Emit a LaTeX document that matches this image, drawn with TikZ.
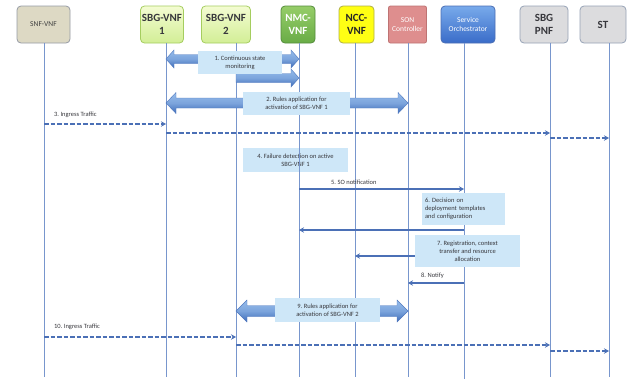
\documentclass[tikz,border=0pt]{standalone}
\usepackage{fontspec}
\setmainfont{Carlito}
\usetikzlibrary{arrows.meta,calc}
\frenchspacing
\definecolor{lifec}{RGB}{120,150,205}
\definecolor{msgc}{RGB}{75,112,182}
\definecolor{lblue}{RGB}{206,231,248}
\definecolor{txt}{RGB}{55,55,60}
\definecolor{blkT}{RGB}{150,188,235}
\definecolor{blkB}{RGB}{62,108,185}
\definecolor{blkD}{RGB}{80,120,190}
\definecolor{snfF}{RGB}{221,217,196}
\definecolor{snfD}{RGB}{150,155,165}
\definecolor{sbgT}{RGB}{244,252,210}
\definecolor{sbgB}{RGB}{210,238,150}
\definecolor{sbgD}{RGB}{165,205,95}
\definecolor{nmcT}{RGB}{150,205,105}
\definecolor{nmcB}{RGB}{105,172,70}
\definecolor{nmcD}{RGB}{85,140,60}
\definecolor{nccF}{RGB}{255,255,20}
\definecolor{nccD}{RGB}{175,175,70}
\definecolor{sonF}{RGB}{222,142,142}
\definecolor{sonD}{RGB}{190,115,115}
\definecolor{soT}{RGB}{120,170,235}
\definecolor{soB}{RGB}{58,108,200}
\definecolor{soD}{RGB}{75,110,180}
\definecolor{pnfF}{RGB}{220,220,222}
\definecolor{pnfD}{RGB}{150,162,182}
\newcommand\blkdouble[5]{%
  \path[blk] let \p1=(#1), \p2=(#2) in
    (\x1,\y1) -- (\x1+#5,\y1+#4) -- (\x1+#5,\y1+#3) -- (\x2-#5,\y2+#3) -- (\x2-#5,\y2+#4)
    -- (\x2,\y2) -- (\x2-#5,\y2-#4) -- (\x2-#5,\y2-#3) -- (\x1+#5,\y1-#3) -- (\x1+#5,\y1-#4) -- cycle;}
\newcommand\blkright[5]{%
  \path[blk] let \p1=(#1), \p2=(#2) in
    (\x1,\y1+#3) -- (\x2-#5,\y2+#3) -- (\x2-#5,\y2+#4)
    -- (\x2,\y2) -- (\x2-#5,\y2-#4) -- (\x2-#5,\y2-#3) -- (\x1,\y1-#3) -- cycle;}
\begin{document}
\begin{tikzpicture}[x=1pt,y=-1pt,
  hdr/.style={rounded corners=4pt, line width=0.8pt, align=center, inner sep=1pt,
    minimum height=37pt, text=txt},
  big/.style={font=\fontsize{11}{12.5}\selectfont\bfseries},
  small/.style={font=\fontsize{7.5}{9}\selectfont},
  lbl/.style={fill=lblue, align=center, font=\fontsize{6.5}{7.8}\selectfont\frenchspacing, text=txt, inner sep=1pt},
  life/.style={draw=lifec, line width=0.9pt},
  msg/.style={draw=msgc, line width=1.2pt, -{Stealth[length=5pt,width=5.5pt]}},
  dmsg/.style={msg, line width=1.4pt, dash pattern=on 4.5pt off 2pt},
  mtxt/.style={font=\fontsize{6.5}{7.5}\selectfont\frenchspacing, text=txt, anchor=west, inner sep=0pt},
  blk/.style={draw=blkD, line width=0.4pt, top color=blkT, bottom color=blkB, middle color=blkT!70!blkB}
]
\useasboundingbox (0,0) rectangle (643,386);

% headers
\node[hdr, small, draw=snfD, fill=snfF, minimum width=53pt, text=black!75] (snf) at (43.5,24.5) {SNF-VNF};
\node[hdr, big, draw=sbgD, top color=sbgT, bottom color=sbgB, minimum width=43pt] (sbga) at (162,24.5) {SBG-VNF\\1};
\node[hdr, big, draw=sbgD, top color=sbgT, bottom color=sbgB, minimum width=49pt] (sbgb) at (226,24.5) {SBG-VNF\\2};
\node[hdr, big, draw=nmcD, top color=nmcT, bottom color=nmcB, minimum width=34pt, text=white] (nmc) at (298,24.5) {NMC-\\VNF};
\node[hdr, big, draw=nccD, fill=nccF, minimum width=35pt, text=black!85] (ncc) at (356.5,24.5) {NCC-\\VNF};
\node[hdr, small, draw=sonD, fill=sonF, minimum width=38pt, text=white, rounded corners=2pt] (son) at (407.5,24.5) {SON\\Controller};
\node[hdr, small, draw=soD, top color=soT, bottom color=soB, minimum width=54pt, text=white] (so) at (468,24.5) {Service\\Orchestrator};
\node[hdr, big, draw=pnfD, fill=pnfF, minimum width=48pt] (pnf) at (544,24.5) {SBG\\PNF};
\node[hdr, big, draw=pnfD, fill=pnfF, minimum width=46pt] (st) at (603,24.5) {ST};

% box drawn beneath the lifelines
\node[lbl, minimum width=105pt, minimum height=24pt] (b4) at (295.5,160) {4. Failure detection on active\\SBG-VNF 1};

% lifelines
\coordinate (La) at (44,377);  \coordinate (Lb) at (166,377); \coordinate (Lc) at (236,377);
\coordinate (Ld) at (299,377); \coordinate (Le) at (355,377); \coordinate (Lf) at (408,377);
\coordinate (Lg) at (464,379); \coordinate (Lh) at (550,377); \coordinate (Li) at (609,377);
\draw[life] (snf.south -| La) -- (La);
\draw[life] (sbga.south -| Lb) -- (Lb);
\draw[life] (sbgb.south -| Lc) -- (Lc);
\draw[life] (nmc.south -| Ld) -- (Ld);
\draw[life] (ncc.south -| Le) -- (Le);
\draw[life] (son.south -| Lf) -- (Lf);
\draw[life] (so.south -| Lg) -- (Lg);
\draw[life] (pnf.south -| Lh) -- (Lh);
\draw[life] (st.south -| Li) -- (Li);

% row coordinates
\coordinate (r1) at (0,59);  \coordinate (r1b) at (0,78); \coordinate (r2) at (0,103);
\coordinate (r3a) at (0,124); \coordinate (r3b) at (0,133); \coordinate (r3c) at (0,138);
\coordinate (r5) at (0,189); \coordinate (r6) at (0,230); \coordinate (r7) at (0,256);
\coordinate (r8) at (0,283); \coordinate (r9) at (0,311);
\coordinate (r10a) at (0,337); \coordinate (r10b) at (0,345); \coordinate (r10c) at (0,351);

% block arrows
\blkdouble{Lb |- r1}{Ld |- r1}{4.5pt}{9pt}{8pt}
\blkright{Lc |- r1b}{Ld |- r1b}{4.5pt}{9pt}{8pt}
\blkdouble{Lb |- r2}{Lf |- r2}{5pt}{10.5pt}{10pt}
\blkdouble{Lc |- r9}{Lf |- r9}{5.5pt}{11pt}{11pt}

% label boxes
\node[lbl, minimum width=84pt, minimum height=23pt] (b1) at (240,62.5) {1. Continuous state\\monitoring};
\node[lbl, minimum width=107pt, minimum height=23pt] (b2) at (296.5,103.5) {2. Rules application for\\activation of SBG-VNF 1};

% traffic 3
\draw[dmsg] (La |- r3a) -- (Lb |- r3a);
\draw[dmsg] (Lb |- r3b) -- (Lh |- r3b);
\draw[dmsg] (Lh |- r3c) -- (Li |- r3c);
\node[mtxt] (t3) at (54,115) {3. Ingress Traffic};

% 5
\draw[msg] (Ld |- r5) -- (Lg |- r5);
\node[mtxt] (t5) at (331,182) {5. SO notification};

% 6
\node[lbl, align=left, minimum width=83pt, minimum height=32pt, text width=77pt] (b6) at (463.5,209) {6. Decision on\\deployment templates\\and configuration};
\draw[msg] (Lg |- r6) -- (Ld |- r6);

% 7
\draw[msg] (Lg |- r7) -- (Le |- r7);
\node[lbl, minimum width=105pt, minimum height=32pt] (b7) at (467.5,251) {7. Registration, context\\transfer and resource\\allocation};

% 8
\draw[msg] (Lg |- r8) -- (Lf |- r8);
\node[mtxt] (t8) at (421,276) {8. Notify};

% 9
\node[lbl, minimum width=105pt, minimum height=24pt] (b9) at (327.5,310) {9. Rules application for\\activation of SBG-VNF 2};

% traffic 10
\draw[dmsg] (La |- r10a) -- (Lc |- r10a);
\draw[dmsg] (Lc |- r10b) -- (Lh |- r10b);
\draw[dmsg] (Lh |- r10c) -- (Li |- r10c);
\node[mtxt] (t10) at (54,327) {10. Ingress Traffic};
\end{tikzpicture}
\end{document}
